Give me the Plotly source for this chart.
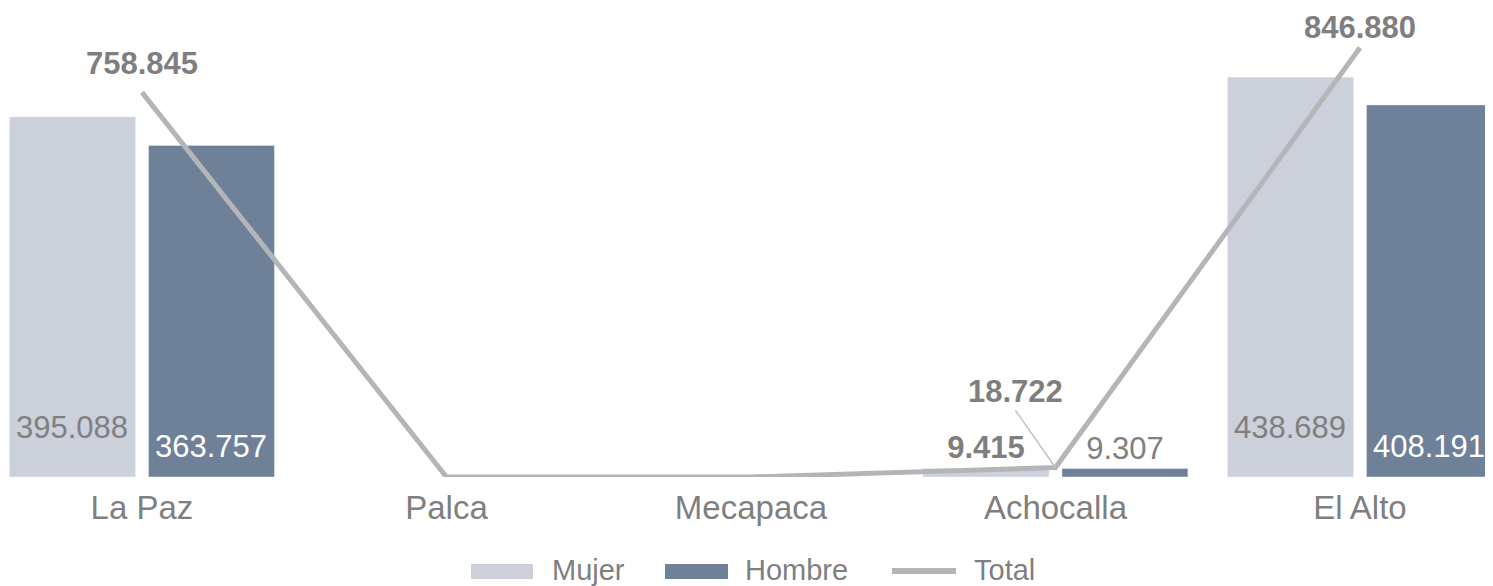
import plotly.graph_objects as go

categories = ["La Paz", "Palca", "Mecapaca", "Achocalla", "El Alto"]
mujer = [395088, None, None, 9415, 438689]
hombre = [363757, None, None, 9307, 408191]
total = [758845, 0, 0, 18722, 846880]
series_names = ["Mujer", "Hombre", "Total"]

def fmt(v):
    return "" if v is None else f"{v:,}".replace(",", ".")

GRAY_TXT = "#7f7f7f"
MUJER_C = "#cbd0da"
HOMBRE_C = "#6e8199"
LINE_C = "#b4b5b8"
LEADER_C = "#c3c4c7"
FONT = "Liberation Sans, Arial, sans-serif"
LBL = 31
INSIDE_MIN = 50000  # values above this get their label inside the bar base

# page is rendered with an 8px body margin: figure sized to fit the window
W, H = 1485, 578
B = 109
PLOT_H = H - B

BARGAP, GROUPGAP = 0.087, 0.094
HALF_SLOT = (1 - BARGAP) / 4.0
TOTAL_LABEL_SHIFT = {"La Paz": 9, "El Alto": 1}

fig = go.Figure()

def bar_text(vals, bold_outside):
    out, pos = [], []
    for v in vals:
        if v is None or v > INSIDE_MIN:
            out.append(""); pos.append("none")
        else:
            out.append(("<b>%s</b>" % fmt(v)) if bold_outside else fmt(v)); pos.append("outside")
    return out, pos

m_text, m_pos = bar_text(mujer, True)
h_text, h_pos = bar_text(hombre, False)

fig.add_trace(go.Bar(
    name="Mujer", x=categories, y=mujer, marker_color=MUJER_C,
    text=m_text, textposition=m_pos,
    textfont=dict(size=LBL, color=GRAY_TXT, family=FONT),
    cliponaxis=False, hoverinfo="skip", showlegend=False,
))
fig.add_trace(go.Bar(
    name="Hombre", x=categories, y=hombre, marker_color=HOMBRE_C,
    text=h_text, textposition=h_pos,
    textfont=dict(size=LBL, color=GRAY_TXT, family=FONT),
    cliponaxis=False, hoverinfo="skip", showlegend=False,
))
fig.add_trace(go.Scatter(
    name="Total", x=categories, y=total, yaxis="y2", mode="lines",
    line=dict(color=LINE_C, width=5),
    cliponaxis=False, showlegend=False,
))

# inside-base labels of the large bars
for i, c in enumerate(categories):
    for vals, sign, col, shift in ((mujer, -1, GRAY_TXT, 30), (hombre, 1, "white", 11)):
        v = vals[i]
        if v is not None and v > INSIDE_MIN:
            fig.add_annotation(
                x=i + sign * HALF_SLOT, y=0, xref="x", yref="y", text=fmt(v),
                showarrow=False, xanchor="center", yanchor="bottom", yshift=shift,
                font=dict(size=LBL, color=col, family=FONT),
            )

# total labels
for i, (c, v) in enumerate(zip(categories, total)):
    if v == 0:
        continue
    if v > INSIDE_MIN:
        fig.add_annotation(
            x=c, y=v, xref="x", yref="y2", text="<b>%s</b>" % fmt(v),
            showarrow=False, xanchor="center", yanchor="bottom",
            yshift=TOTAL_LABEL_SHIFT.get(c, 5),
            font=dict(size=LBL, color=GRAY_TXT, family=FONT),
        )
    else:
        fig.add_annotation(
            x=c, y=v, xref="x", yref="y2", text="<b>%s</b>" % fmt(v),
            showarrow=True, arrowhead=0, arrowwidth=1.5, arrowcolor=LEADER_C,
            ax=-40, ay=-57, xanchor="center", yanchor="bottom",
            font=dict(size=LBL, color=GRAY_TXT, family=FONT),
        )

# legend (drawn in paper coordinates)
def px(page_x):
    return (page_x - 8) / W

def py(page_y):
    return (PLOT_H - (page_y - 8)) / PLOT_H

legend_items = [
    ("rect", MUJER_C, 471, 533, 550),
    ("rect", HOMBRE_C, 665, 728, 743),
    ("line", LINE_C, 892, 956, 972),
]
for name, (kind, col, x0, x1, tx) in zip(series_names, legend_items):
    if kind == "rect":
        fig.add_shape(type="rect", xref="paper", yref="paper",
                      x0=px(x0), x1=px(x1), y0=py(579), y1=py(564),
                      fillcolor=col, line=dict(width=0))
    else:
        fig.add_shape(type="line", xref="paper", yref="paper",
                      x0=px(x0), x1=px(x1), y0=py(571), y1=py(571),
                      line=dict(color=col, width=6))
    fig.add_annotation(x=px(tx), y=py(570), xref="paper", yref="paper",
                       text=name, showarrow=False, xanchor="left", yanchor="middle",
                       font=dict(size=29, color=GRAY_TXT, family=FONT))

fig.update_layout(
    width=W, height=H,
    margin=dict(l=0, r=0, t=0, b=B),
    paper_bgcolor="white", plot_bgcolor="white",
    barmode="group", bargap=BARGAP, bargroupgap=GROUPGAP,
    font=dict(family=FONT, color=GRAY_TXT, size=30),
    xaxis=dict(range=[-0.440, 4.437], showgrid=False, showline=False, zeroline=False,
               ticks="", tickfont=dict(size=33, color=GRAY_TXT, family=FONT), ticklabelstandoff=8),
    yaxis=dict(range=[0, 514540], visible=False, showgrid=False),
    yaxis2=dict(range=[0, 925400], overlaying="y", visible=False, showgrid=False),
    showlegend=False,
)

fig.write_html("out.html")
